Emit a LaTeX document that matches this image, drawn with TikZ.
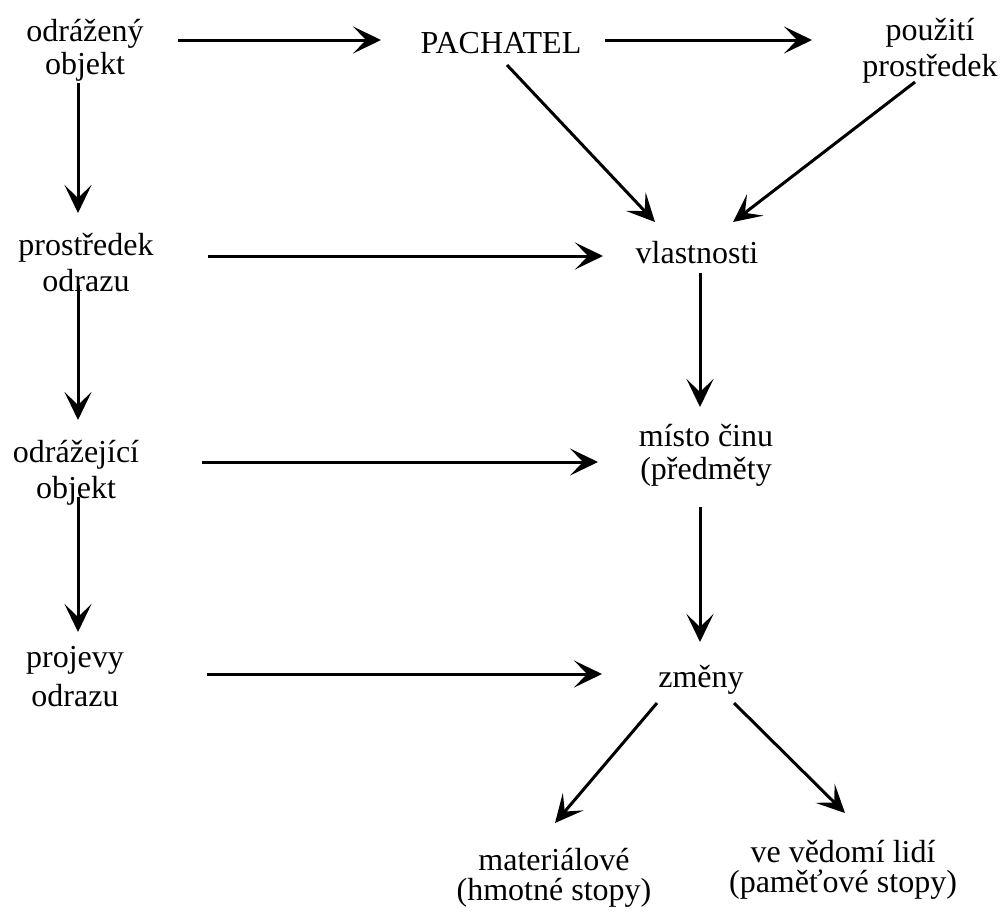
\documentclass[tikz,border=0pt]{standalone}
\usepackage{fontspec}
\setmainfont{Liberation Serif}
\usetikzlibrary{arrows.meta}
\begin{document}
\begin{tikzpicture}[x=1pt,y=-1pt,
  lbl/.style={align=center,inner sep=0pt,font=\fontsize{32}{36}\selectfont},
  arr/.style={line width=3pt,-{Stealth[length=28pt,width=27pt,inset=13pt]}}]
\useasboundingbox (0,0) rectangle (1003,913);
\node[lbl] (a) at (85,51) {\strut odrážený\\[-3pt]\strut objekt};
\node[lbl] (p) at (501,46) {\strut PACHATEL};
\node[lbl] (u) at (930,51) {\strut použití\\\strut prostředek};
\node[lbl] (b) at (86,266) {\strut prostředek\\\strut odrazu};
\node[lbl] (v) at (697,256) {\strut vlastnosti};
\node[lbl] (c) at (76,473) {\strut odrážející\\\strut objekt};
\node[lbl] (m) at (706,456) {\strut místo činu\\[-3pt]\strut (předměty};
\node[lbl] (d) at (75,680) {\strut projevy\\[3pt]\strut odrazu};
\node[lbl] (z) at (701,680) {\strut změny};
\node[lbl] (ma) at (554,878) {\strut materiálové\\[-6pt]\strut (hmotné stopy)};
\node[lbl] (ve) at (843,870) {\strut ve vědomí lidí\\[-6pt]\strut (paměťové stopy)};
% connectors
\coordinate (a1) at (178,40); \coordinate (p1) at (381,40);
\draw[arr] (a1) -- (p1);
\coordinate (p2) at (605,40); \coordinate (u1) at (812,40);
\draw[arr] (p2) -- (u1);
\coordinate (p3) at (507,65); \coordinate (v1) at (655,222);
\draw[arr] (p3) -- (v1);
\coordinate (u2) at (915,82); \coordinate (v2) at (733,222);
\draw[arr] (u2) -- (v2);
\coordinate (a2) at (78,83); \coordinate (b1) at (78,213);
\draw[arr] (a2) -- (b1);
\coordinate (b2) at (208,256); \coordinate (v3) at (603,256);
\draw[arr] (b2) -- (v3);
\coordinate (v4) at (700,273); \coordinate (m1) at (700,407);
\draw[arr] (v4) -- (m1);
\coordinate (b3) at (78,285); \coordinate (c1) at (78,420);
\draw[arr] (b3) -- (c1);
\coordinate (c2) at (202,462); \coordinate (m2) at (598,462);
\draw[arr] (c2) -- (m2);
\coordinate (m3) at (700,507); \coordinate (z1) at (700,642);
\draw[arr] (m3) -- (z1);
\coordinate (c3) at (78,497); \coordinate (d1) at (78,632);
\draw[arr] (c3) -- (d1);
\coordinate (d2) at (207,674); \coordinate (z2) at (602,674);
\draw[arr] (d2) -- (z2);
\coordinate (z3) at (657,703); \coordinate (ma1) at (555,823);
\draw[arr] (z3) -- (ma1);
\coordinate (z4) at (734,703); \coordinate (ve1) at (845,813);
\draw[arr] (z4) -- (ve1);
\end{tikzpicture}
\end{document}
